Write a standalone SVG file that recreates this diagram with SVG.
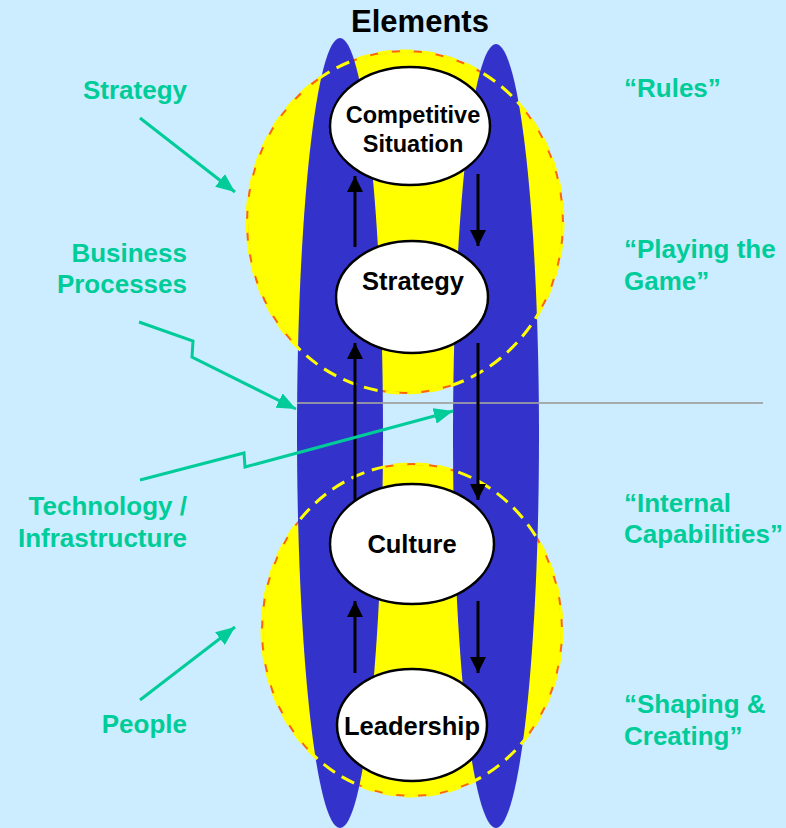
<svg xmlns="http://www.w3.org/2000/svg" width="786" height="828" viewBox="0 0 786 828">
<defs>
<style>
.bg{fill:#CCECFF}
.sun{fill:#FFFF00;stroke:#FF6600;stroke-width:2}
.dash{fill:none;stroke:#FFFF00;stroke-width:3;stroke-dasharray:14 8}
.band{fill:#3333CC}
.node{fill:#FFFFFF;stroke:#000000;stroke-width:2.5}
.nt{font-family:"Liberation Sans",Arial,sans-serif;font-weight:bold;fill:#000000;text-anchor:middle}
.lbl{font-family:"Liberation Sans",Arial,sans-serif;font-weight:bold;font-size:26px;fill:#00CC99}
.blk{stroke:#000000;stroke-width:3;fill:none;marker-end:url(#ahB)}
.tl{stroke:#00CC99;stroke-width:3;fill:none;stroke-linejoin:miter;marker-end:url(#ahT)}
</style>
<marker id="ahB" markerUnits="userSpaceOnUse" markerWidth="16" markerHeight="16" viewBox="0 0 16 16" refX="16" refY="8" orient="auto"><path d="M0,0 L16,8 L0,16 z" fill="#000000"/></marker>
<marker id="ahT" markerUnits="userSpaceOnUse" markerWidth="19" markerHeight="16" viewBox="0 0 19 16" refX="19" refY="8" orient="auto"><path d="M0,0 L19,8 L0,16 z" fill="#00CC99"/></marker>
</defs>
<rect class="bg" x="0" y="0" width="786" height="828"/>
<g id="title"><text class="nt" x="420" y="32" font-size="31">Elements</text></g>
<g id="backdrop">
<ellipse class="sun" cx="405" cy="222" rx="158" ry="171"/>
<ellipse class="sun" cx="412" cy="630" rx="150" ry="166"/>
<ellipse class="band" cx="340" cy="433" rx="43" ry="395"/>
<ellipse class="band" cx="496" cy="436" rx="43" ry="392"/>
<line x1="297" y1="403" x2="763" y2="403" stroke="#A0A0A0" stroke-width="2" opacity="0.85"/>
<ellipse class="dash" cx="405" cy="222" rx="158" ry="171"/>
<ellipse class="dash" cx="412" cy="630" rx="150" ry="166"/>
</g>
<g id="connectors">
<line class="blk" x1="355" y1="247" x2="355" y2="176"/>
<line class="blk" x1="478" y1="174" x2="478" y2="246"/>
<line class="blk" x1="355" y1="501" x2="355" y2="343"/>
<line class="blk" x1="478" y1="343" x2="478" y2="500"/>
<line class="blk" x1="355" y1="673" x2="355" y2="601"/>
<line class="blk" x1="478" y1="601" x2="478" y2="673"/>
<path class="tl" d="M140,118 L235,192"/>
<path class="tl" d="M139,322 L193,341 L192,357 L296,409"/>
<path class="tl" d="M140,480 L244,453 L245,467 L453,411"/>
<path class="tl" d="M140,700 L235,627"/>
</g>
<g id="node-competitive">
<ellipse class="node" cx="410" cy="126" rx="80" ry="59"/>
<text class="nt" x="413" y="123" font-size="23.5">Competitive</text>
<text class="nt" x="413" y="152" font-size="23.5">Situation</text>
</g>
<g id="node-strategy">
<ellipse class="node" cx="412" cy="297" rx="76" ry="56"/>
<text class="nt" x="413" y="290" font-size="25.5">Strategy</text>
</g>
<g id="node-culture">
<ellipse class="node" cx="412" cy="544" rx="82" ry="60"/>
<text class="nt" x="412" y="553" font-size="25.5">Culture</text>
</g>
<g id="node-leadership">
<ellipse class="node" cx="412" cy="725" rx="75" ry="56"/>
<text class="nt" x="412" y="735" font-size="25.5">Leadership</text>
</g>
<g id="labels-left">
<text class="lbl" x="187" y="99" text-anchor="end">Strategy</text>
<text class="lbl" x="187" y="262" text-anchor="end">Business</text>
<text class="lbl" x="187" y="293" text-anchor="end">Processes</text>
<text class="lbl" x="187" y="515" text-anchor="end">Technology /</text>
<text class="lbl" x="187" y="547" text-anchor="end">Infrastructure</text>
<text class="lbl" x="187" y="733" text-anchor="end">People</text>
</g>
<g id="labels-right">
<text class="lbl" x="624" y="97">“Rules”</text>
<text class="lbl" x="624" y="258">“Playing the</text>
<text class="lbl" x="624" y="290">Game”</text>
<text class="lbl" x="624" y="512">“Internal</text>
<text class="lbl" x="624" y="543">Capabilities”</text>
<text class="lbl" x="624" y="713">“Shaping &amp;</text>
<text class="lbl" x="624" y="745">Creating”</text>
</g>
</svg>
